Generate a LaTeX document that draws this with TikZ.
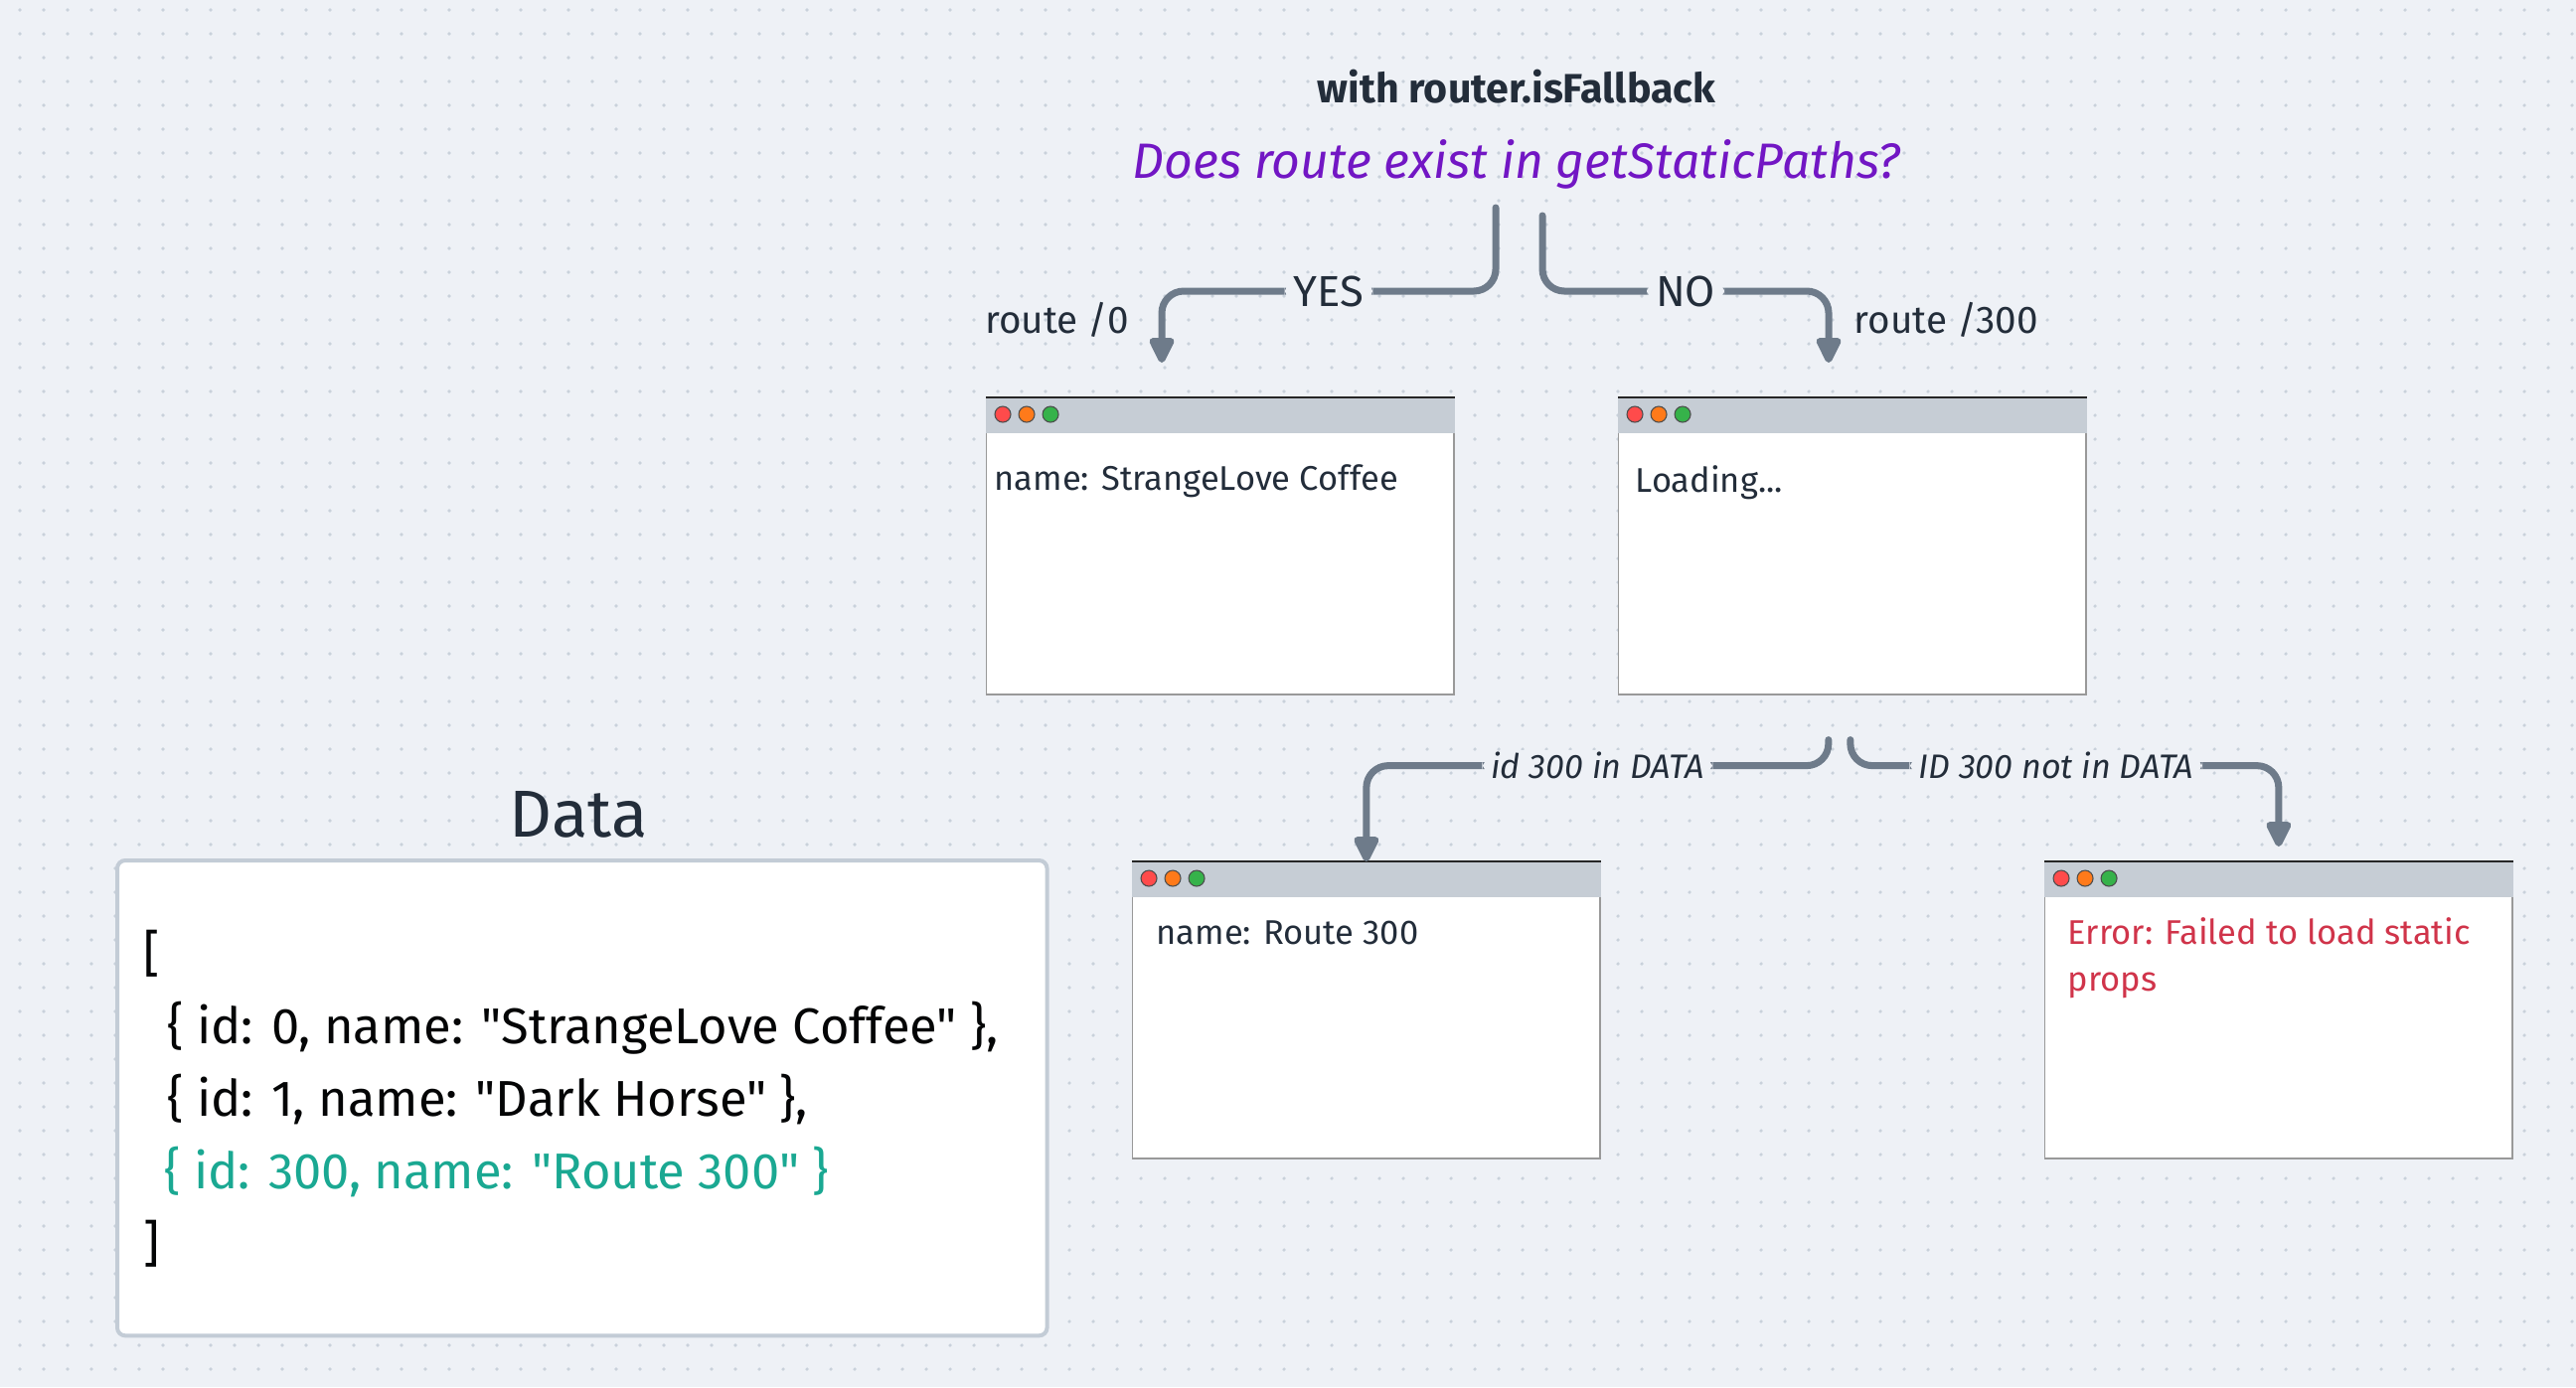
\documentclass[tikz,border=0pt]{standalone}
\usepackage{fontspec}
\setmainfont{Fira Sans}[Ligatures=TeXOff]
\usetikzlibrary{positioning,calc,arrows.meta}

\definecolor{bg}{HTML}{EEF1F6}
\definecolor{griddot}{HTML}{C9D1DB}
\definecolor{ink}{HTML}{232D3A}
\definecolor{flowgray}{HTML}{6E7B8A}
\definecolor{quest}{HTML}{7216C4}
\definecolor{datagreen}{HTML}{1AA892}
\definecolor{errred}{HTML}{D0344A}
\definecolor{barcol}{HTML}{C6CDD5}
\definecolor{boxline}{HTML}{C3CCD6}
\definecolor{lred}{HTML}{FF4B4B}
\definecolor{lorange}{HTML}{FF7A1A}
\definecolor{lgreen}{HTML}{36B24A}

\begin{document}
\begin{tikzpicture}[x=0.01cm, y=-0.01cm,
    win/.style={draw=black!40, line width=0.4pt, fill=white, minimum width=4.7cm, minimum height=2.98cm, inner sep=0pt, anchor=north west},
    wintext/.style={text=ink, font=\fontsize{9.8pt}{12pt}\selectfont, anchor=base west, inner sep=0pt},
    flow/.style={draw=flowgray, line width=0.07cm, line cap=round, rounded corners=0.22cm, -{Triangle[length=0.3cm, width=0.27cm, round]}},
    lbl/.style={fill=bg, text=ink, inner xsep=0.09cm, inner ysep=0.02cm, font=\fontsize{12.4pt}{14pt}\selectfont},
    ilbl/.style={lbl, font=\fontsize{9.7pt}{12pt}\selectfont\itshape},
    routelbl/.style={text=ink, inner sep=0pt, font=\fontsize{11pt}{13pt}\selectfont},
    datatxt/.style={text=black!90!ink, font=\fontsize{14.4pt}{17pt}\selectfont, anchor=base west, inner sep=0pt}]
    \useasboundingbox (0,0) rectangle (2592,1396);
    \fill[bg] (0,0) rectangle (2592,1396);
    \foreach \j in {0,...,57}
        \fill[griddot] foreach \i in {0,...,107} { (20+24*\i, 10+24*\j) circle (0.018cm) };

    % headings
    \node[anchor=base, text=ink, font=\fontsize{11.7pt}{14pt}\selectfont\bfseries] (title) at (1526,103) {with router.isFallback};
    \node[anchor=base, text=quest, font=\fontsize{14.2pt}{17pt}\selectfont\itshape] (question) at (1526,179) {Does route exist in getStaticPaths?};

    % browser windows
    \node[win] (w1) at (992,400) {};
    \node[win] (w2) at (1628,400) {};
    \node[win] (w3) at (1139,867) {};
    \node[win] (w4) at (2057,867) {};
    \foreach \w in {w1,w2,w3,w4} {
        \fill[barcol] (\w.north west) rectangle ([yshift=-0.36cm]\w.north east);
        \draw[black!85, line width=0.02cm] (\w.north west) -- (\w.north east);
        \foreach \c [count=\k] in {lred,lorange,lgreen}
            \filldraw[fill=\c, draw=black!70, line width=0.3pt] ([xshift={\k*0.24cm-0.07cm}, yshift=-0.17cm]\w.north west) circle (0.08cm);
    }
    \node[wintext] (t1) at (1000,493) {name: StrangeLove Coffee};
    \node[wintext] (t2) at (1645,495) {Loading...};
    \node[wintext] (t3) at (1163,950) {name: Route 300};
    \node[wintext, text=errred] (t4) at (2080,950) {Error: Failed to load static};
    \node[wintext, text=errred] (t4b) at ([yshift=-0.47cm]t4.base west) {props};

    % route labels
    \node[routelbl, anchor=base east] (r0) at (1137,335) {route /0};
    \node[routelbl, anchor=base west] (r300) at (1865,335) {route /300};

    % connectors
    \coordinate (ys) at (1505,209);
    \coordinate (ye) at (1169,365);
    \coordinate (ns) at (1552,217);
    \coordinate (ne) at (1840,365);
    \coordinate (is) at ([xshift=-0.24cm, yshift=-0.45cm]w2.south);
    \coordinate (js) at ([xshift=-0.02cm, yshift=-0.45cm]w2.south);
    \draw[flow] (ys) -- ++(0,84) -| node[lbl, pos=0.25] {YES} (ye);
    \draw[flow] (ns) -- ++(0,76) -| node[lbl, pos=0.25] {NO} (ne);
    \draw[flow] (is) -- ++(0,26) -| node[ilbl, pos=0.25] {id 300 in DATA} (w3.north);
    \draw[flow] (js) -- ++(0,26) -| node[ilbl, pos=0.24] {ID 300 not in DATA} ([yshift=0.15cm]w4.north);

    % data
    \node[anchor=base, text=ink, font=\fontsize{19pt}{22pt}\selectfont] (datatitle) at (582,842) {Data};
    \node[draw=boxline, line width=0.04cm, rounded corners=0.08cm, fill=white, minimum width=9.35cm, minimum height=4.78cm, anchor=north west] (databox) at (116,864) {};
    \node[datatxt] (d1) at (144,977) {[};
    \node[datatxt] (d2) at (168,1050) {\{ id: 0, name: "StrangeLove Coffee" \},};
    \node[datatxt] (d3) at (168,1123) {\{ id: 1, name: "Dark Horse" \},};
    \node[datatxt, text=datagreen] (d4) at (165,1196) {\{ id: 300, name: "Route 300" \}};
    \node[datatxt] (d5) at (144,1269) {]};
\end{tikzpicture}
\end{document}
